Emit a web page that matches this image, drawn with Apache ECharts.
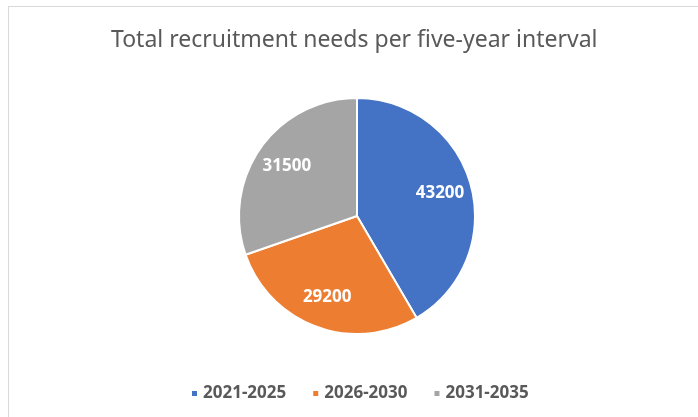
<!DOCTYPE html>
<html>
<head>
<meta charset="utf-8">
<script src="https://cdn.jsdelivr.net/npm/echarts@6/dist/echarts.min.js"></script>
<style>
  html, body { margin: 0; padding: 0; background: #fff; }
  #chart { width: 698px; height: 417px; }
</style>
</head>
<body>
<div id="chart"></div>
<script>
// Recruitment needs per five-year interval
const titleText = 'Total recruitment needs per five-year interval';
const intervals = ['2021-2025', '2026-2030', '2031-2035'];
const recruitment = [43200, 29200, 31500];
const sliceColors = ['#4472C4', '#ED7D31', '#A5A5A5'];

const pieData = intervals.map((name, i) => ({ name, value: recruitment[i] }));
const center = [357, 216];

const chart = echarts.init(document.getElementById('chart'));
chart.setOption({
  animation: false,
  color: sliceColors,
  title: {
    text: titleText,
    left: 106,
    top: 24,
    textStyle: {
      fontFamily: 'Noto Sans',
      fontSize: 23,
      fontWeight: 'normal',
      color: '#595959'
    }
  },
  legend: {
    data: intervals,
    bottom: 10,
    left: 185,
    icon: 'rect',
    itemWidth: 7,
    itemHeight: 7,
    itemGap: 25,
    textStyle: {
      fontFamily: 'Noto Sans',
      fontSize: 17,
      fontWeight: 'bold',
      color: '#595959'
    }
  },
  graphic: [
    { type: 'line', shape: { x1: 8, y1: 6.5, x2: 698, y2: 6.5 }, style: { stroke: '#d9d9d9', lineWidth: 1 } },
    { type: 'line', shape: { x1: 8.5, y1: 6.5, x2: 8.5, y2: 417 }, style: { stroke: '#d9d9d9', lineWidth: 1 } }
  ],
  series: [
    {
      // filled slices
      type: 'pie',
      center: center,
      radius: 118,
      startAngle: 90,
      clockwise: true,
      label: { show: false },
      labelLine: { show: false },
      emphasis: { disabled: true },
      itemStyle: { borderColor: '#fff', borderWidth: 2 },
      data: pieData
    },
    {
      // value labels, placed further out than the ring midpoint
      type: 'pie',
      center: center,
      radius: [48, 118],
      startAngle: 90,
      clockwise: true,
      silent: true,
      legendHoverLink: false,
      itemStyle: { color: 'rgba(0,0,0,0)', borderWidth: 0 },
      label: {
        show: true,
        position: 'inside',
        formatter: '{c}',
        fontFamily: 'Noto Sans',
        fontSize: 17,
        fontWeight: 'bold',
        color: '#fff'
      },
      labelLine: { show: false },
      emphasis: { disabled: true },
      data: pieData
    }
  ]
});
</script>
</body>
</html>
